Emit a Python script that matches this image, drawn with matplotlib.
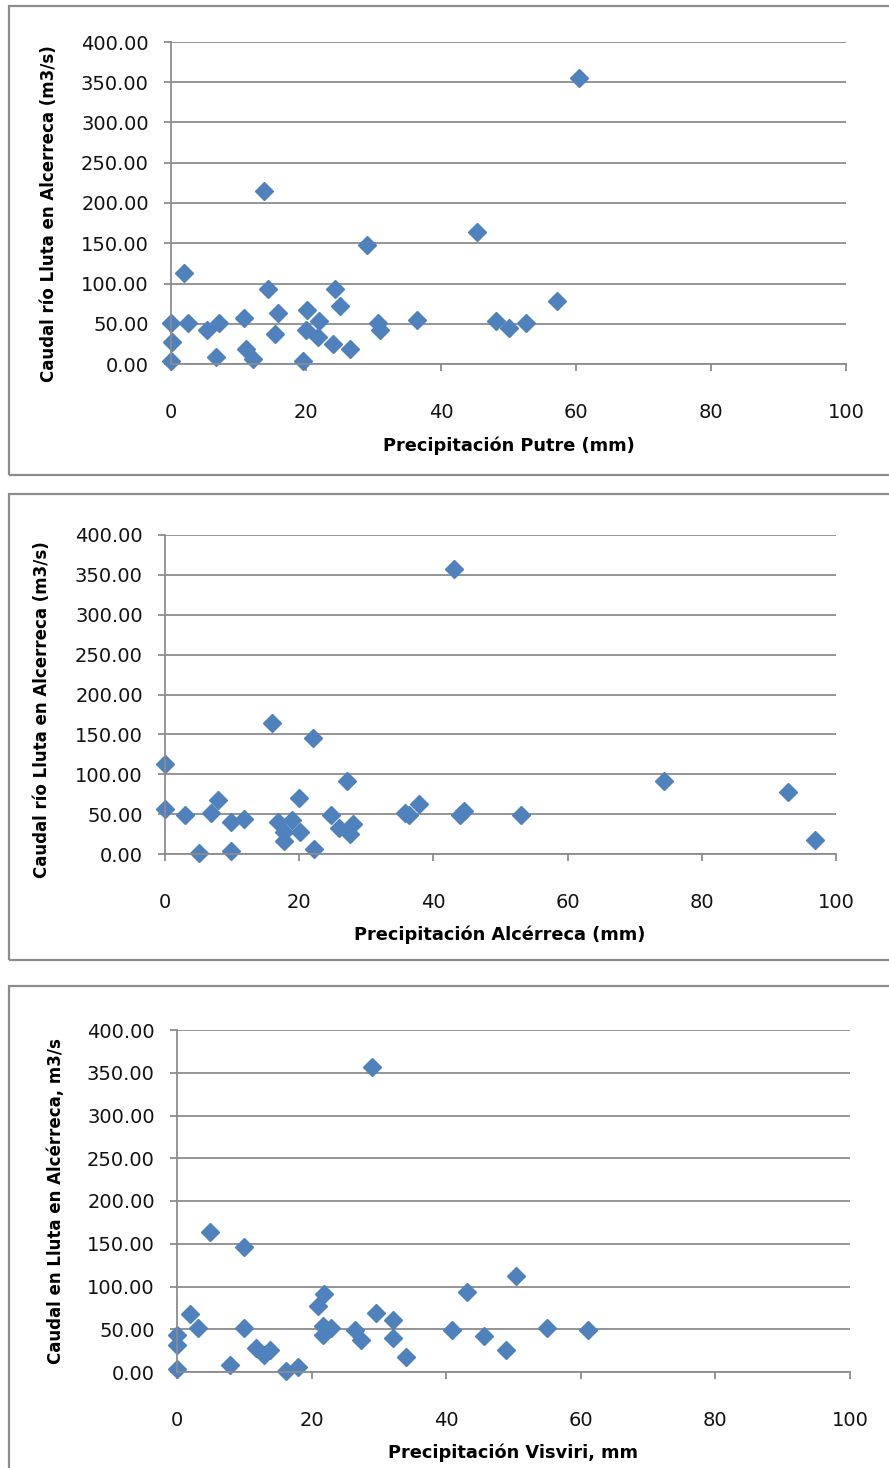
import matplotlib
matplotlib.use("Agg")
import matplotlib.pyplot as plt
from matplotlib.patches import Rectangle

W, H = 889, 1468

# Precipitación Putre (mm) vs caudal (m3/s)
putre_mm = [60.5, 13.85, 45.4, 29.0, 1.94, 14.3, 24.3, 57.2, 25.1, 20.2, 15.8, 10.8,
            36.5, 21.9, 0.0, 2.5, 7.1, 30.7, 48.1, 52.6, 50.1, 5.4, 20.0, 31.0,
            15.4, 21.8, 0.2, 24.0, 11.1, 26.5, 12.1, 6.65, 0.0, 19.6]
putre_q = [355.8, 214.5, 164.5, 147.5, 113.6, 92.6, 92.6, 77.7, 71.5, 67.4, 62.8, 57.0,
           55.0, 53.3, 50.8, 50.8, 50.8, 50.8, 52.9, 50.8, 44.6, 42.6, 42.6, 41.7,
           37.6, 33.5, 27.3, 25.2, 19.0, 18.6, 6.2, 8.3, 4.1, 4.1]

# Precipitación Alcérreca (mm) vs caudal (m3/s)
alce_mm = [43.1, 16.0, 22.1, 0.0, 27.1, 74.3, 92.9, 19.9, 7.9, 0.0, 37.8, 44.5,
           43.9, 3.0, 6.9, 35.8, 36.3, 24.8, 53.0, 9.8, 11.8, 16.8, 19.0, 20.1,
           17.8, 17.8, 25.9, 28.0, 27.5, 96.9, 5.0, 9.8, 22.2]
alce_q = [357.0, 164.5, 145.2, 113.3, 91.9, 91.9, 77.2, 70.5, 67.6, 55.8, 62.1, 54.1,
          48.3, 49.1, 50.8, 50.8, 49.0, 49.5, 49.1, 40.3, 43.6, 40.3, 42.4, 28.1,
          28.1, 16.8, 32.3, 37.3, 24.8, 17.6, 1.7, 4.2, 6.3]

# Precipitación Visviri (mm) vs caudal (m3/s)
visv_mm = [29.0, 4.9, 10.0, 50.3, 43.1, 21.8, 21.0, 1.9, 29.6, 32.1, 3.1, 10.0,
           21.7, 22.9, 21.7, 26.5, 27.3, 32.1, 40.9, 45.6, 55.0, 61.0, 48.9, 34.0,
           0.0, 0.0, 0.0, 11.8, 13.0, 13.8, 7.9, 16.2, 18.0]
visv_q = [356.8, 163.8, 146.3, 112.5, 93.0, 91.1, 77.0, 67.3, 68.9, 60.7, 51.0, 51.0,
          54.1, 51.4, 43.6, 49.4, 37.0, 39.3, 49.4, 41.6, 51.4, 49.4, 25.3, 17.5,
          42.8, 31.1, 3.9, 28.0, 20.2, 26.1, 7.8, 1.2, 5.8]

x_ticks = [0, 20, 40, 60, 80, 100]
y_ticks = [0, 50, 100, 150, 200, 250, 300, 350, 400]

ylab_putre = "Caudal río Lluta en Alcerreca (m3/s)"
ylab_visv = "Caudal en Lluta en Alcérreca, m3/s"

BLUE = "#4f81bd"
GRID = "#8c8c8c"

plt.rcParams["font.family"] = ["DejaVu Sans"]

fig = plt.figure(figsize=(W / 100, H / 100), dpi=100)


def px_axes(left, top, right, bottom):
    return fig.add_axes([left / W, 1 - bottom / H, (right - left) / W, (bottom - top) / H])


def frame(top, bottom):
    fig.add_artist(Rectangle((9 / W, 1 - bottom / H), 1.2, (bottom - top) / H,
                             transform=fig.transFigure, fill=False,
                             ec=GRID, lw=1.6, zorder=0))


def panel(box, xs, ys, xlabel, ylabel, xlab_pos, ylab_pos):
    ax = px_axes(*box)
    ax.set_xlim(0, 100)
    ax.set_ylim(0, 400)
    ax.set_xticks(x_ticks)
    ax.set_yticks(y_ticks)
    ax.set_yticklabels([f"{v:.2f}" for v in y_ticks])
    ax.yaxis.grid(True, color=GRID, lw=1.3)
    ax.set_axisbelow(True)
    for s in ("top", "right"):
        ax.spines[s].set_visible(False)
    for s in ("left", "bottom"):
        ax.spines[s].set_color(GRID)
        ax.spines[s].set_linewidth(1.3)
    ax.tick_params(axis="y", direction="out", length=5, width=1.3, color=GRID,
                   pad=11, labelsize=14, labelcolor="#111111")
    ax.tick_params(axis="x", direction="out", length=5, width=1.3, color=GRID,
                   pad=23, labelsize=14, labelcolor="#111111")
    ax.plot(xs, ys, ls="none", marker="D", ms=9.5, color=BLUE, mec=BLUE, clip_on=False)
    fig.text(xlab_pos[0] / W, 1 - xlab_pos[1] / H, xlabel, ha="center", va="center",
             fontsize=12.8, fontweight="bold")
    fig.text(ylab_pos[0] / W, 1 - ylab_pos[1] / H, ylabel, ha="center", va="center",
             rotation=90, fontsize=12, fontweight="bold")
    return ax


frame(6, 475)
frame(494, 960)
frame(986, 1520)

panel((171, 42, 846, 364), putre_mm, putre_q, "Precipitación Putre (mm)",
      ylab_putre, (509, 446), (49, 214))
panel((165, 535, 836, 854), alce_mm, alce_q, "Precipitación Alcérreca (mm)",
      ylab_putre, (500, 935), (42, 710))
panel((177, 1030, 850, 1372), visv_mm, visv_q, "Precipitación Visviri, mm",
      ylab_visv, (513, 1453), (56, 1201))

fig.savefig("out.png", dpi=100)
